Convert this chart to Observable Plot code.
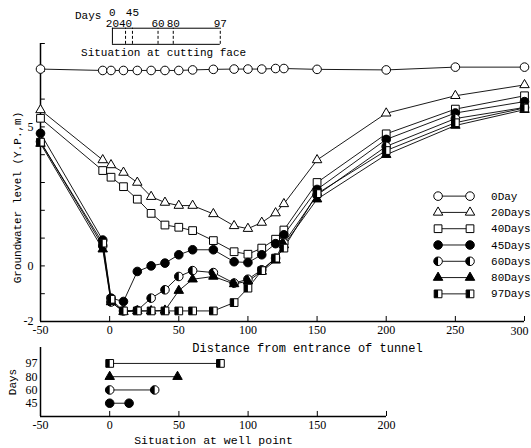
<!DOCTYPE html>
<html><head><meta charset="utf-8">
<script src="https://cdn.jsdelivr.net/npm/d3@7"></script>
<script src="https://cdn.jsdelivr.net/npm/@observablehq/plot@0.6"></script>
<style>
body{margin:0;background:#fff;}
#wrap{position:relative;width:531px;height:448px;overflow:hidden;}
#wrap svg{position:absolute;left:0;}
</style></head><body><div id="wrap"></div>
<script>
// ---- data ----
const distance = [-50, -5, 1, 10, 20, 30, 40, 50, 60, 75, 90, 100, 110, 120, 126, 150, 200, 250, 300];
const day0  = [7.08, 7.03, 7.03, 7.03, 7.03, 7.03, 7.03, 7.03, 7.05, 7.07, 7.08, 7.08, 7.08, 7.1, 7.1, 7.07, 7.05, 7.15, 7.15];
const day20 = [5.61, 3.81, 3.63, 3.36, 3.0, 2.49, 2.28, 2.17, 2.17, 1.87, 1.44, 1.34, 1.56, 1.9, 2.23, 3.81, 5.49, 6.12, 6.51];
const day40 = [5.31, 3.43, 3.19, 2.85, 2.40, 1.89, 1.47, 1.39, 1.27, 0.91, 0.51, 0.42, 0.64, 0.96, 1.29, 3.0, 4.75, 5.64, 6.12];
const day45 = [4.77, 0.93, -1.16, -1.28, -0.2, 0.0, 0.1, 0.4, 0.58, 0.58, 0.15, 0.12, 0.4, 0.8, 1.12, 2.75, 4.55, 5.5, 5.91];
const day60 = [4.47, 0.72, -1.3, -1.62, -1.6, -1.16, -0.86, -0.38, -0.17, -0.24, -0.62, -0.48, -0.14, 0.28, 0.82, 2.55, 4.3, 5.3, 5.7];
const day80 = [4.4, 0.6, -1.3, -1.65, -1.62, -1.62, -1.6, -0.89, -0.48, -0.38, -0.65, -0.55, -0.2, 0.2, 0.75, 2.4, 4.0, 5.05, 5.62];
const day97 = [4.45, 0.82, -1.2, -1.62, -1.62, -1.62, -1.62, -1.62, -1.62, -1.62, -1.32, -0.8, -0.17, 0.28, 0.64, 2.6, 4.15, 5.15, 5.68];
const seriesNames = ["0Day", "20Days", "40Days", "45Days", "60Days", "80Days", "97Days"];
const seriesValues = [day0, day20, day40, day45, day60, day80, day97];

const xTicks = [-50, 0, 50, 100, 150, 200, 250, 300];
const yTicks = [-2, -1, 0, 1, 2, 3, 4, 5, 6, 7, 8];
const yTickLabels = [-2, 0, 5];

// situation at cutting face
const cutDays = [0, 20, 40, 45, 60, 80, 97];
const cutPos = [2, 2, 11.5, 16.5, 35, 46, 80];
const cutTopRow = [0, 45];

// situation at well point
const wellDays = [45, 60, 80, 97];
const wellSeries = ["45Days", "60Days", "80Days", "97Days"];
const wellStart = [0, 0, 0, 0];
const wellEnd = [14, 32.5, 49, 80];
const wellXTicks = [-50, 0, 50, 100, 150, 200];

// ---- styles ----
const looks = {
  "0Day":   {kind: "circle",   fill: "white"},
  "20Days": {kind: "triangle", fill: "white"},
  "40Days": {kind: "square",   fill: "white"},
  "45Days": {kind: "circle",   fill: "black"},
  "60Days": {kind: "circle",   fill: "white", half: true},
  "80Days": {kind: "triangle", fill: "black"},
  "97Days": {kind: "square",   fill: "white", half: true}
};
function sym(kind, half) {
  return {draw(ctx, size) {
    const r = Math.sqrt(size / Math.PI);
    if (kind === "circle") {
      if (half) { ctx.moveTo(0, -r); ctx.arc(0, 0, r, -Math.PI / 2, Math.PI / 2, true); ctx.closePath(); }
      else { ctx.moveTo(r, 0); ctx.arc(0, 0, r, 0, 2 * Math.PI); ctx.closePath(); }
    } else if (kind === "square") {
      const h = r * 0.9;
      if (half) ctx.rect(-h, -h, h, 2 * h); else ctx.rect(-h, -h, 2 * h, 2 * h);
    } else {
      const s = r * 2.2, hh = s * Math.sqrt(3) / 2;
      ctx.moveTo(0, -2 * hh / 3); ctx.lineTo(s / 2, hh / 3); ctx.lineTo(-s / 2, hh / 3); ctx.closePath();
    }
  }};
}
const R = 4.3;
function markerMarks(data, name, x, y) {
  const lk = looks[name];
  const m = [Plot.dot(data, {x, y, symbol: sym(lk.kind), r: R, fill: lk.fill, stroke: "black", strokeWidth: 1})];
  if (lk.half) m.push(Plot.dot(data, {x, y, symbol: sym(lk.kind, true), r: R, fill: "black", stroke: "none"}));
  return m;
}

const rows = seriesNames.flatMap((s, k) => seriesValues[k].map((v, i) => ({series: s, x: distance[i], y: v})));

// legend layout (in chart units)
const legX1 = 237.5, legX2 = 260.6, legTextX = 275.8, legY0 = 2.51, legStep = 0.586;
const legend = seriesNames.map((s, i) => ({series: s, y: legY0 - i * legStep}));

const monoFont = "Liberation Mono";
const numFont = "Liberation Serif";

const boxLo = 7.97, boxHi = 8.55;
const cutLabels = cutDays.map((d, i) => ({d, x: cutPos[i], top: cutTopRow.includes(d)}));
const lastX = xTicks[xTicks.length - 1];

const main = Plot.plot({
  width: 531, height: 355,
  marginLeft: 40, marginRight: 7, marginTop: 43, marginBottom: 34,
  x: {domain: [-50, 300]},
  y: {domain: [-2, 8]},
  style: {background: "transparent", fontFamily: monoFont, fontSize: "11px", color: "black", overflow: "visible"},
  marks: [
    // axes
    Plot.ruleY([-2], {strokeWidth: 1.5}),
    Plot.ruleX([-50], {y1: -2, y2: 8, strokeWidth: 1.5}),
    Plot.ruleX(xTicks, {x: d => d, y1: -2, y2: -1.82}),
    Plot.ruleY(yTicks, {y: d => d, x1: -50, x2: -46.5}),
    Plot.axisX({ticks: xTicks.slice(0, -1), tickSize: 0, tickPadding: 4, label: null, fontFamily: numFont, fontSize: 12, tickFormat: d => String(d)}),
    Plot.text([lastX], {x: d => d, frameAnchor: "bottom", lineAnchor: "middle", dy: 10, dx: -5, text: d => String(d), fontFamily: numFont, fontSize: 12}),
    Plot.axisY({ticks: yTickLabels, tickSize: 0, tickPadding: 7, label: null, fontFamily: numFont, fontSize: 12, tickFormat: d => String(d)}),
    Plot.text(["Groundwater level (Y.P.,m)"], {frameAnchor: "left", textAnchor: "middle", lineAnchor: "middle", rotate: -90, dx: -23, dy: 15, fontSize: 11}),
    Plot.text(["Distance from entrance of tunnel"], {frameAnchor: "bottom", textAnchor: "middle", lineAnchor: "middle", dx: 25, dy: 27, fontSize: 12}),
    // series
    Plot.line(rows, {x: "x", y: "y", z: "series", stroke: "black", strokeWidth: 0.9}),
    ...seriesNames.flatMap(s => markerMarks(rows.filter(r => r.series === s), s, "x", "y")),
    // legend
    Plot.link(legend, {x1: legX1, x2: legX2, y1: "y", y2: "y", stroke: "black", strokeWidth: 0.9}),
    ...seriesNames.flatMap(s => {
      const d = legend.filter(l => l.series === s);
      return [...markerMarks(d, s, () => legX1, "y"), ...markerMarks(d, s, () => legX2, "y")];
    }),
    Plot.text(legend, {x: legTextX, y: "y", text: "series", textAnchor: "start", fontSize: 11}),
    // situation at cutting face
    Plot.ruleY([boxLo, boxHi], {x1: cutPos[0], x2: cutPos[cutPos.length - 1], y: d => d}),
    Plot.ruleX([cutPos[0]], {x: d => d, y1: boxLo, y2: boxHi}),
    Plot.ruleX(cutPos.slice(2), {x: d => d, y1: boxLo, y2: boxHi, strokeDasharray: "3,2"}),
    Plot.text(cutLabels, {x: "x", y: d => d.top ? 9.13 : 8.73, text: d => String(d.d), fontSize: 11}),
    Plot.text(["Days"], {x: -6, y: 9.0, textAnchor: "end", fontSize: 11}),
    Plot.text(["Situation at cutting face"], {x: 39, y: 7.68, fontSize: 11})
  ]
});
main.style.top = "0px";

// bottom panel: rows placed by their rank (0 = 45 days ... 3 = 97 days)
const wellRows = wellDays.map((d, i) => ({day: d, k: i, series: wellSeries[i], x1: wellStart[i], x2: wellEnd[i]}));
const wellRank = wellDays.map((d, i) => i);
const bottom = Plot.plot({
  width: 531, height: 112,
  marginLeft: 40, marginRight: 145, marginTop: 11, marginBottom: 32,
  x: {domain: [-50, 200]},
  y: {domain: [-1, 4.2]},
  style: {background: "transparent", fontFamily: monoFont, fontSize: "11px", color: "black", overflow: "visible"},
  marks: [
    Plot.ruleY([-1], {strokeWidth: 1.5}),
    Plot.ruleX([-50], {y1: -1, y2: 4.2, strokeWidth: 1.5}),
    Plot.ruleX(wellXTicks, {x: d => d, y1: -1, y2: -0.62}),
    Plot.axisX({ticks: wellXTicks, tickSize: 0, tickPadding: 4, label: null, fontFamily: numFont, fontSize: 12, tickFormat: d => String(d)}),
    Plot.axisY({ticks: wellRank, tickSize: 0, tickPadding: 3, label: null, fontFamily: numFont, fontSize: 12, tickFormat: i => String(wellDays[i])}),
    Plot.text(["Days"], {frameAnchor: "left", textAnchor: "middle", lineAnchor: "middle", rotate: -90, dx: -28, fontSize: 11}),
    Plot.text(["Situation at well point"], {frameAnchor: "bottom", textAnchor: "middle", lineAnchor: "middle", dy: 24, fontSize: 11.5}),
    Plot.link(wellRows, {x1: "x1", x2: "x2", y1: "k", y2: "k", stroke: "black", strokeWidth: 0.9}),
    ...wellSeries.flatMap(s => {
      const d = wellRows.filter(r => r.series === s);
      return [...markerMarks(d, s, "x1", "k"), ...markerMarks(d, s, "x2", "k")];
    })
  ]
});
bottom.style.top = "336px";

const wrap = document.getElementById("wrap");
wrap.appendChild(main);
wrap.appendChild(bottom);
</script></body></html>
